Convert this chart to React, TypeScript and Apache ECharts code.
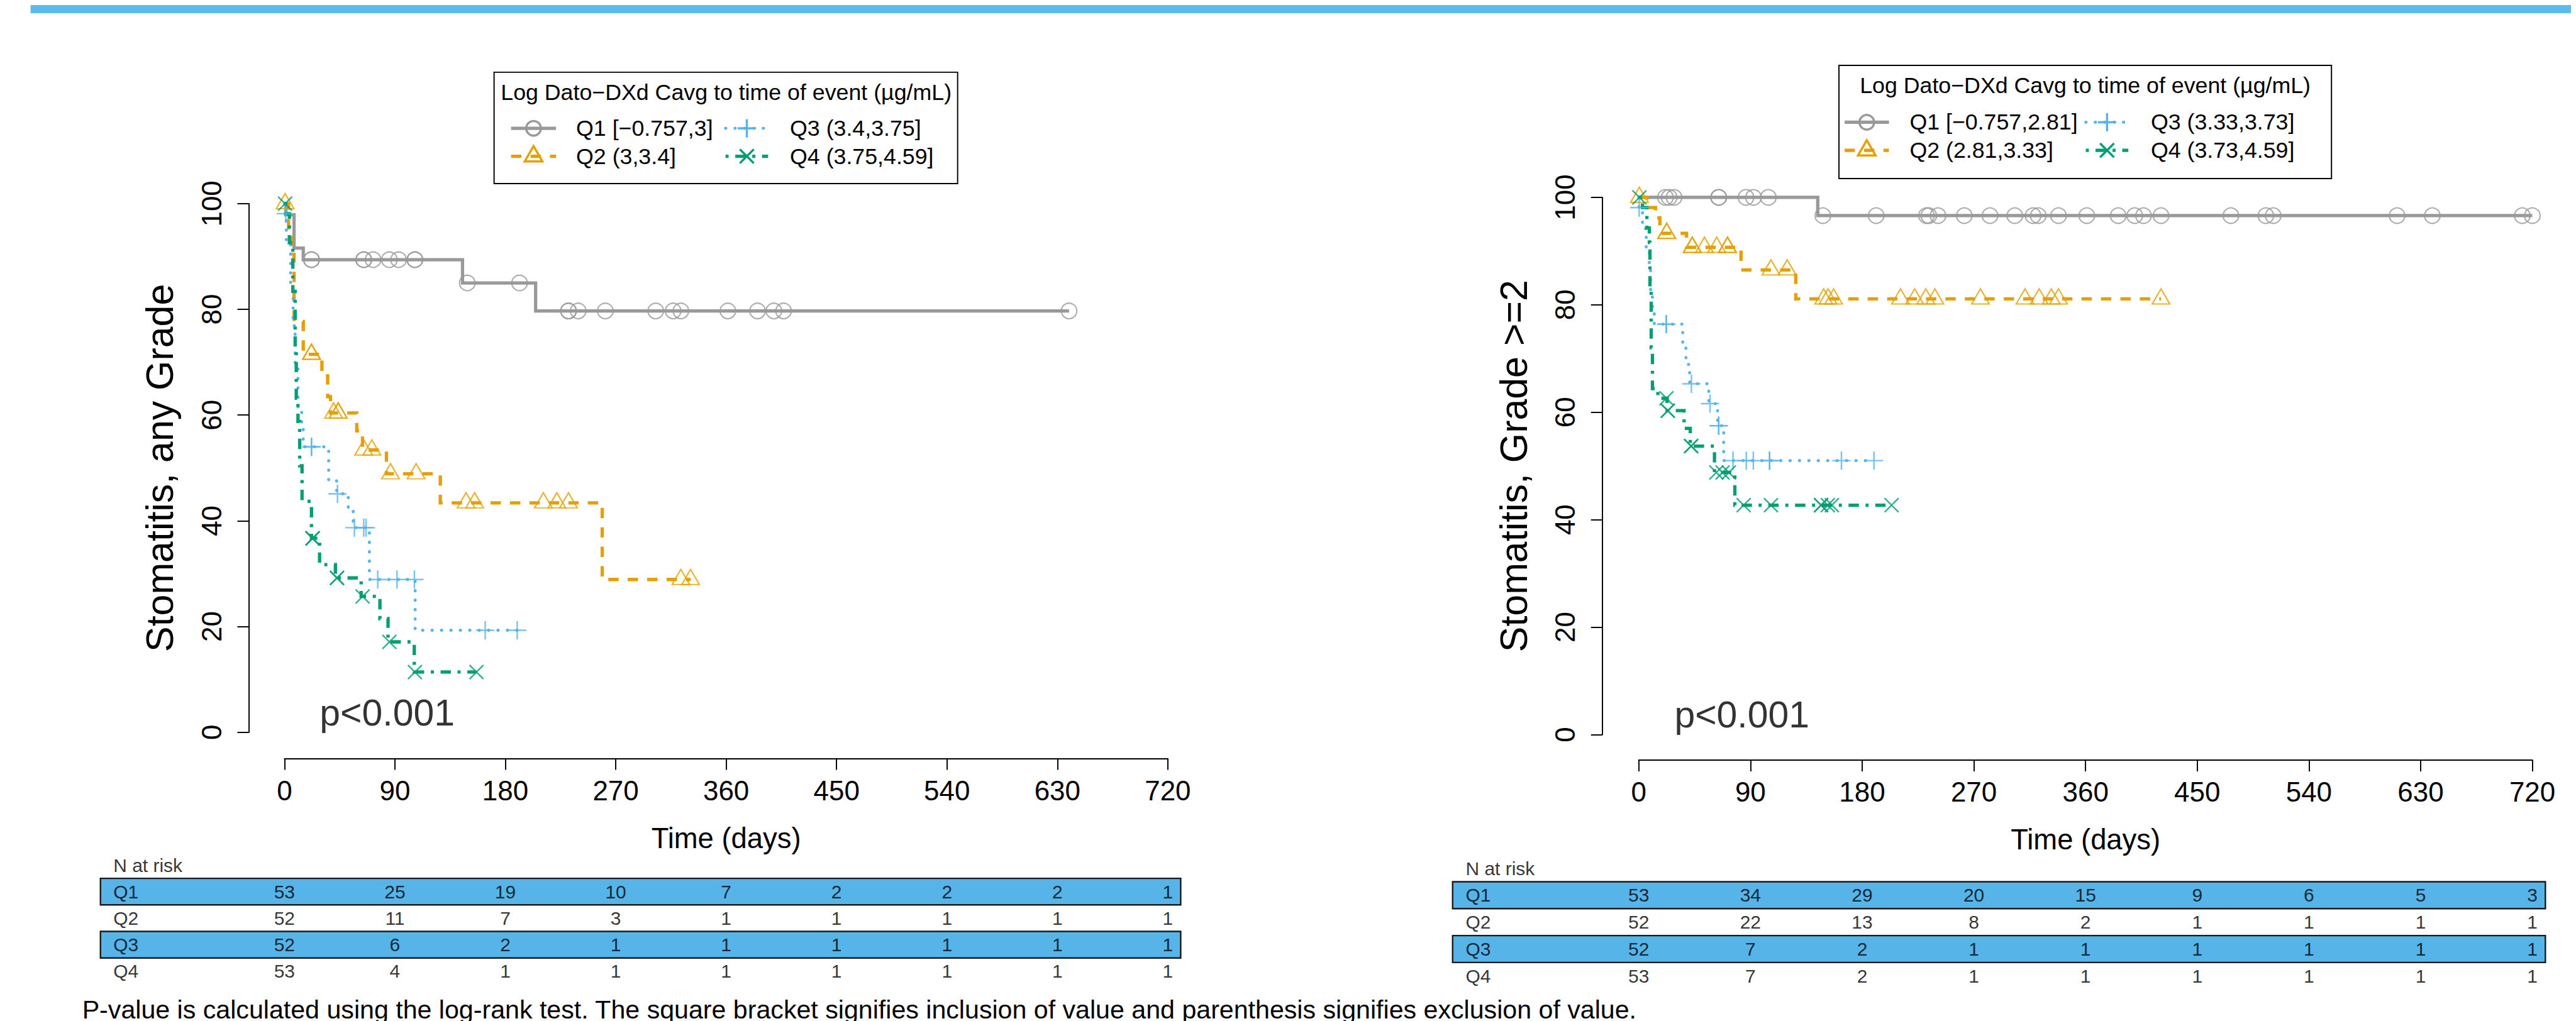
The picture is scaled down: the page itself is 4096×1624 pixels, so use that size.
import React, { useEffect, useRef } from 'react';
import * as echarts from 'echarts';

// ---------------- DATA ----------------
const xTicks = [0, 90, 180, 270, 360, 450, 540, 630, 720];
const yTicks = [0, 20, 40, 60, 80, 100];
const groupNames = ['Q1', 'Q2', 'Q3', 'Q4'];

// Left panel: Stomatitis, any Grade
const anyQ1Times = [0, 1.1, 7.8, 15.3, 145.1, 204.7, 639.5];
const anyQ1Surv = [100, 97.9, 91.6, 89.4, 85.0, 79.7, 79.7];
const anyQ1Cens = [22.0, 22.0, 64.6, 64.6, 72.2, 85.5, 93.0, 106.3, 106.3, 149.0, 191.6, 231.5, 231.5, 239.4, 261.5, 302.6, 316.8, 323.1, 361.4, 385.6, 398.9, 406.8, 639.5];

const anyQ2Times = [0, 3.3, 5.5, 7.8, 15.3, 30.5, 35.2, 37.5, 58.9, 63.6, 83.1, 127.0, 259.0, 331.0];
const anyQ2Surv = [100, 94.2, 90.4, 77.7, 71.5, 67.4, 63.5, 60.4, 57.0, 53.4, 48.9, 43.4, 28.9, 28.9];
const anyQ2Cens = [0.5, 22.0, 22.0, 40.0, 43.8, 43.8, 64.6, 71.2, 86.4, 107.3, 148.0, 155.0, 211.0, 222.0, 231.5, 323.1, 331.0];

const anyQ3Times = [0, 0.8, 1.5, 5.0, 7.0, 8.7, 11.0, 14.0, 15.3, 36.0, 42.5, 52.0, 56.0, 69.2, 106.5, 189.7];
const anyQ3Surv = [100, 98.1, 92.3, 84.6, 76.9, 69.2, 61.5, 57.7, 54.0, 47.7, 45.1, 41.9, 38.7, 28.9, 19.3, 19.3];
const anyQ3Cens = [1.0, 22.0, 22.0, 43.2, 57.0, 64.6, 66.5, 76.0, 91.7, 105.9, 163.6, 189.7];

const anyQ4Times = [0, 1.0, 4.0, 6.8, 8.7, 9.6, 11.0, 12.4, 14.3, 22.0, 28.6, 41.5, 62.5, 77.8, 84.4, 105.8, 156.5];
const anyQ4Surv = [100, 98.1, 92.6, 83.4, 72.9, 63.2, 58.8, 50.4, 43.7, 36.7, 31.7, 29.2, 25.7, 21.5, 17.1, 11.4, 11.4];
const anyQ4Cens = [0.5, 22.9, 22.9, 22.9, 42.8, 42.8, 63.7, 85.5, 106.3, 156.5];

const anyRiskQ1 = [53, 25, 19, 10, 7, 2, 2, 2, 1];
const anyRiskQ2 = [52, 11, 7, 3, 1, 1, 1, 1, 1];
const anyRiskQ3 = [52, 6, 2, 1, 1, 1, 1, 1, 1];
const anyRiskQ4 = [53, 4, 1, 1, 1, 1, 1, 1, 1];
const anyLegendLabels = ['Q1 [\u22120.757,3]', 'Q2 (3,3.4]', 'Q3 (3.4,3.75]', 'Q4 (3.75,4.59]'];

// Right panel: Stomatitis, Grade >=2
const g2Q1Times = [0, 144.2, 720.0];
const g2Q1Surv = [100, 96.6, 96.6];
const g2Q1Cens = [21.5, 24.5, 28.4, 64.4, 64.4, 86.4, 92.4, 104.4, 148.3, 191.3, 231.8, 233.7, 241.1, 262.3, 283.0, 303.0, 317.7, 321.9, 338.2, 361.0, 386.3, 399.6, 406.7, 420.8, 477.1, 505.3, 511.2, 611.0, 639.4, 711.9, 720.0];

const g2Q2Times = [0, 6.5, 13.5, 17.0, 38.5, 82.4, 126.5, 420.8];
const g2Q2Surv = [100, 98.1, 96.2, 93.3, 90.7, 86.5, 81.1, 81.1];
const g2Q2Cens = [0.5, 22.5, 22.5, 43.1, 43.1, 52.9, 62.8, 71.5, 71.5, 106.5, 119.6, 149.0, 152.5, 157.0, 210.9, 222.3, 231.3, 238.6, 275.3, 311.2, 322.6, 332.4, 338.2, 420.8];

const g2Q3Times = [0, 0.2, 3.0, 6.0, 8.5, 9.5, 11.0, 12.5, 35.4, 38.0, 41.0, 56.4, 63.5, 68.4, 189.5];
const g2Q3Surv = [100, 98.1, 94.2, 90.4, 86.5, 82.7, 78.8, 76.4, 72.5, 68.9, 65.3, 61.6, 57.5, 51.0, 51.0];
const g2Q3Cens = [0.3, 22.1, 22.1, 42.4, 57.4, 64.4, 64.4, 75.9, 86.6, 92.3, 105.4, 105.4, 163.3, 189.5];

const g2Q4Times = [0, 3.0, 6.5, 8.5, 9.0, 10.0, 11.0, 15.4, 22.8, 36.5, 41.5, 61.0, 77.4, 203.7];
const g2Q4Surv = [100, 98.1, 94.3, 91.6, 83.0, 72.0, 64.4, 62.6, 60.3, 57.0, 53.7, 48.8, 42.7, 42.7];
const g2Q4Cens = [0.5, 22.3, 23.4, 23.4, 42.2, 42.2, 62.5, 67.5, 72.6, 84.5, 106.5, 146.9, 146.9, 152.3, 155.6, 203.7];

const g2RiskQ1 = [53, 34, 29, 20, 15, 9, 6, 5, 3];
const g2RiskQ2 = [52, 22, 13, 8, 2, 1, 1, 1, 1];
const g2RiskQ3 = [52, 7, 2, 1, 1, 1, 1, 1, 1];
const g2RiskQ4 = [53, 7, 2, 1, 1, 1, 1, 1, 1];
const g2LegendLabels = ['Q1 [\u22120.757,2.81]', 'Q2 (2.81,3.33]', 'Q3 (3.33,3.73]', 'Q4 (3.73,4.59]'];

const legendTitle = 'Log Dato\u2212DXd Cavg to time of event (\u00b5g/mL)';
const footnote = 'P-value is calculated using the log-rank test. The square bracket signifies inclusion of value and parenthesis signifies exclusion of value.';

// ---------------- STYLE / LAYOUT ----------------
const S = 0.966;
const W = 4096;
const H = 1624;
const P = (v: number) => Math.round(v * S * 100) / 100;
const FONT = '"Liberation Sans", Arial, Helvetica, sans-serif';
const COLORS = ['#999999', '#E69F00', '#56B4E9', '#009E73'];
const BAND = '#56B4E9';

const lineStyles = [
  { width: 5.4, type: 'solid' as any, cap: 'butt' },
  { width: 5.5, type: [17, 15], cap: 'butt' },
  { width: 5.0, type: [0.5, 15], cap: 'round' },
  { width: 5.5, type: [5, 11, 17, 11], cap: 'butt' },
];

function survAt(times: number[], surv: number[], t: number) {
  let v = surv[0];
  for (let i = 0; i < times.length; i++) if (times[i] <= t) v = surv[i];
  return v;
}

const panels = [
  {
    x0: 460, k: 2.0194, y0: 1197.5, ky: 8.705, yAxisX: 401, xAxisY: 1240.7,
    tableTop: 1438, rowH: 43.7,
    yName: 'Stomatitis, any Grade',
    times: [anyQ1Times, anyQ2Times, anyQ3Times, anyQ4Times],
    surv: [anyQ1Surv, anyQ2Surv, anyQ3Surv, anyQ4Surv],
    cens: [anyQ1Cens, anyQ2Cens, anyQ3Cens, anyQ4Cens],
    risk: [anyRiskQ1, anyRiskQ2, anyRiskQ3, anyRiskQ4],
    legend: {
      labels: anyLegendLabels, box: [805, 110.6, 763, 183.4], titleX: 1187, titleY: 144.4,
      rows: [203, 249], cols: [[833, 907, 870, 940], [1186, 1256, 1221, 1292]],
    },
  },
  {
    x0: 2689.2, k: 2.0428, y0: 1201.3, ky: 8.846, yAxisX: 2629, xAxisY: 1243.4,
    tableTop: 1443.6, rowH: 44.3,
    yName: 'Stomatitis, Grade >=2',
    times: [g2Q1Times, g2Q2Times, g2Q3Times, g2Q4Times],
    surv: [g2Q1Surv, g2Q2Surv, g2Q3Surv, g2Q4Surv],
    cens: [g2Q1Cens, g2Q2Cens, g2Q3Cens, g2Q4Cens],
    risk: [g2RiskQ1, g2RiskQ2, g2RiskQ3, g2RiskQ4],
    legend: {
      labels: g2LegendLabels, box: [3018.7, 99.3, 810.7, 186.4], titleX: 3424, titleY: 133,
      rows: [193, 239.3], cols: [[3028, 3101, 3064.5, 3135], [3425, 3495, 3460, 3532]],
    },
  },
];

const TRI_W = 29;
const TRI_H = 25;
const markerDefs = [
  { symbol: 'circle', size: 25.5, offset: 0, bw: 2.2 },
  { symbol: 'triangle', size: [TRI_W, TRI_H], offset: -(TRI_H / 2 - TRI_H / 3), bw: 2.2 },
  { symbol: 'path://M1,0L1,2M0,1L2,1', size: 30, offset: 0, bw: 2.5 },
  { symbol: 'path://M0,0L2,2M2,0L0,2', size: 23, offset: 0, bw: 2.5 },
];

function legendMarker(q: number, cx: number, cy: number) {
  const c = COLORS[q];
  const lw = P(3.6);
  if (q === 0) {
    return [{ type: 'circle', shape: { cx: P(cx), cy: P(cy), r: P(12) }, style: { fill: 'none', stroke: c, lineWidth: lw }, z: 101 }];
  }
  if (q === 1) {
    return [{
      type: 'polygon',
      shape: { points: [[P(cx), P(cy - 16.7)], [P(cx + 14.5), P(cy + 8.4)], [P(cx - 14.5), P(cy + 8.4)]] },
      style: { fill: 'none', stroke: c, lineWidth: lw }, z: 101,
    }];
  }
  if (q === 2) {
    return [
      { type: 'line', shape: { x1: P(cx - 15), y1: P(cy), x2: P(cx + 15), y2: P(cy) }, style: { stroke: c, lineWidth: lw }, z: 101 },
      { type: 'line', shape: { x1: P(cx), y1: P(cy - 15), x2: P(cx), y2: P(cy + 15) }, style: { stroke: c, lineWidth: lw }, z: 101 },
    ];
  }
  return [
    { type: 'line', shape: { x1: P(cx - 11.5), y1: P(cy - 11.5), x2: P(cx + 11.5), y2: P(cy + 11.5) }, style: { stroke: c, lineWidth: lw }, z: 101 },
    { type: 'line', shape: { x1: P(cx + 11.5), y1: P(cy - 11.5), x2: P(cx - 11.5), y2: P(cy + 11.5) }, style: { stroke: c, lineWidth: lw }, z: 101 },
  ];
}

function buildLegend(lg: any) {
  const els: any[] = [];
  const [bx, by, bw, bh] = lg.box;
  els.push({ type: 'rect', shape: { x: P(bx), y: P(by), width: P(bw), height: P(bh) }, style: { fill: '#fff', stroke: '#000', lineWidth: P(2) }, z: 100 });
  els.push({
    type: 'text', x: P(lg.titleX), y: P(lg.titleY), z: 101,
    style: { text: legendTitle, fill: '#000', fontSize: P(37), fontFamily: FONT, align: 'center', verticalAlign: 'middle' },
  });
  for (let q = 0; q < 4; q++) {
    const col = lg.cols[q < 2 ? 0 : 1];
    const row = lg.rows[q % 2];
    const ls = lineStyles[q];
    els.push({
      type: 'line', z: 101,
      shape: { x1: P(col[0]), y1: P(row), x2: P(col[1]), y2: P(row) },
      style: {
        stroke: COLORS[q], lineWidth: P(ls.width), lineCap: ls.cap,
        lineDash: Array.isArray(ls.type) ? ls.type.map((d: number) => P(d)) : null,
      },
    });
    els.push(...legendMarker(q, col[2], row));
    els.push({
      type: 'text', x: P(col[3]), y: P(row), z: 101,
      style: { text: lg.labels[q], fill: '#000', fontSize: P(37), fontFamily: FONT, align: 'left', verticalAlign: 'middle' },
    });
  }
  return els;
}

function buildOption() {
  const grid: any[] = [];
  const xAxis: any[] = [];
  const yAxis: any[] = [];
  const series: any[] = [];
  const graphic: any[] = [];

  graphic.push({ type: 'rect', shape: { x: P(42), y: 0, width: P(4237 - 42), height: P(13.5) }, style: { fill: '#5BBBEF' }, z: 100 });

  panels.forEach((pn, pi) => {
    const gi = pi * 2;
    // plot grid
    grid.push({
      left: P(pn.x0), top: P(pn.y0 - 100 * pn.ky), width: P(720 * pn.k), height: P(100 * pn.ky),
      containLabel: false, outerBoundsMode: 'none', show: false,
    });
    // table grid
    grid.push({
      left: P(pn.x0 - 150 * pn.k), top: P(pn.tableTop - pn.rowH), width: P(881 * pn.k), height: P(5 * pn.rowH),
      containLabel: false, outerBoundsMode: 'none', show: false,
    });
    const axisLineStyle = { color: '#000', width: P(2) };
    xAxis.push({
      type: 'value', gridIndex: gi, min: xTicks[0], max: xTicks[xTicks.length - 1], interval: 90,
      offset: P(pn.xAxisY - pn.y0),
      axisLine: { show: true, onZero: false, lineStyle: axisLineStyle },
      axisTick: { show: true, length: P(18.5), lineStyle: axisLineStyle },
      axisLabel: { show: true, fontSize: P(45.5), color: '#000', fontFamily: FONT, margin: P(29.7) },
      splitLine: { show: false },
      name: 'Time (days)', nameLocation: 'middle', nameGap: P(107.7), nameMoveOverlap: false,
      nameTextStyle: { fontSize: P(47), color: '#000', fontFamily: FONT },
    });
    yAxis.push({
      type: 'value', gridIndex: gi, min: yTicks[0], max: yTicks[yTicks.length - 1], interval: 20,
      offset: P(pn.x0 - pn.yAxisX),
      axisLine: { show: true, onZero: false, lineStyle: axisLineStyle },
      axisTick: { show: true, length: P(18.5), lineStyle: axisLineStyle },
      axisLabel: { show: true, fontSize: P(45.5), color: '#000', fontFamily: FONT, margin: P(38.5), rotate: 90 },
      splitLine: { show: false },
      name: pn.yName, nameLocation: 'middle', nameGap: P(114.5), nameMoveOverlap: false,
      nameTextStyle: { fontSize: P(63), color: '#000', fontFamily: FONT },
    });
    xAxis.push({ type: 'value', gridIndex: gi + 1, min: -150, max: 731, show: false, splitLine: { show: false } });
    yAxis.push({ type: 'value', gridIndex: gi + 1, min: 0, max: 5, show: false, splitLine: { show: false } });

    for (let q = 0; q < 4; q++) {
      const ls = lineStyles[q];
      series.push({
        type: 'line', name: groupNames[q], xAxisIndex: gi, yAxisIndex: gi,
        data: pn.times[q].map((t: number, j: number) => [t, pn.surv[q][j]]),
        step: 'end', showSymbol: false, symbol: 'none', clip: false, silent: true, z: 2,
        lineStyle: {
          color: COLORS[q], width: P(ls.width), cap: ls.cap, join: 'miter',
          type: Array.isArray(ls.type) ? ls.type.map((d: number) => P(d)) : 'solid',
        },
      });
    }
    for (let q = 0; q < 4; q++) {
      const md = markerDefs[q];
      series.push({
        type: 'scatter', xAxisIndex: gi, yAxisIndex: gi, clip: false, silent: true, z: 3,
        data: pn.cens[q].map((t: number) => [t, survAt(pn.times[q], pn.surv[q], t)]),
        symbol: md.symbol,
        symbolSize: Array.isArray(md.size) ? md.size.map((d: number) => P(d)) : P(md.size as number),
        symbolOffset: [0, P(md.offset)],
        itemStyle: { color: 'transparent', borderColor: COLORS[q], borderWidth: P(md.bw) },
      });
    }
    // p-value
    series.push({
      type: 'scatter', xAxisIndex: gi, yAxisIndex: gi, clip: false, silent: true, z: 4,
      data: [[28.7, 3.7]], symbol: 'circle', symbolSize: 1, itemStyle: { color: 'transparent' },
      label: {
        show: true, formatter: 'p<0.001', position: 'inside', align: 'left', verticalAlign: 'middle',
        fontSize: P(61), color: '#000', fontFamily: FONT,
      },
    });
    // table bands
    series.push({
      type: 'scatter', xAxisIndex: gi + 1, yAxisIndex: gi + 1, data: [], silent: true, z: 1,
      markArea: {
        silent: true, label: { show: false },
        itemStyle: { color: BAND, borderColor: '#1a1a1a', borderWidth: P(2.5) },
        data: [
          [{ xAxis: -150, yAxis: 3 }, { xAxis: 730.5, yAxis: 4 }],
          [{ xAxis: -150, yAxis: 1 }, { xAxis: 730.5, yAxis: 2 }],
        ],
      },
    });
    // table numbers
    const numData: any[] = [];
    pn.risk.forEach((row: number[], r: number) => {
      row.forEach((n: number, j: number) => numData.push([xTicks[j], 3.5 - r, n]));
    });
    series.push({
      type: 'scatter', xAxisIndex: gi + 1, yAxisIndex: gi + 1, clip: false, silent: true, z: 5,
      data: numData, symbol: 'circle', symbolSize: 1, itemStyle: { color: 'transparent' },
      label: {
        show: true, position: 'inside', formatter: (p: any) => String(p.value[2]),
        fontSize: P(31), color: '#000', fontFamily: FONT, align: 'center', verticalAlign: 'middle',
      },
    });
    // row labels
    const rowLab: any[] = groupNames.map((g, r) => [-139.5, 3.5 - r, g]);
    rowLab.push([-139.5, 4.49, 'N at risk']);
    series.push({
      type: 'scatter', xAxisIndex: gi + 1, yAxisIndex: gi + 1, clip: false, silent: true, z: 5,
      data: rowLab, symbol: 'circle', symbolSize: 1, itemStyle: { color: 'transparent' },
      label: {
        show: true, position: 'inside', formatter: (p: any) => String(p.value[2]),
        fontSize: P(31), color: '#000', fontFamily: FONT, align: 'left', verticalAlign: 'middle',
      },
    });

    graphic.push(...buildLegend(pn.legend));
  });

  graphic.push({
    type: 'text', x: P(127), y: P(1654), z: 100,
    style: { text: footnote, fill: '#000', fontSize: P(42.6), fontFamily: FONT, align: 'left', verticalAlign: 'middle' },
  });

  return {
    animation: false,
    backgroundColor: '#ffffff',
    textStyle: { fontFamily: FONT },
    tooltip: { show: false },
    grid, xAxis, yAxis, series, graphic,
  };
}

export default function App() {
  const ref = useRef<HTMLDivElement>(null);
  useEffect(() => {
    if (!ref.current) return;
    const chart = echarts.init(ref.current, null, { renderer: 'svg', width: W, height: H });
    chart.setOption(buildOption() as any);
    return () => chart.dispose();
  }, []);
  return (
    <div
      ref={ref}
      style={{ position: 'fixed', left: 0, top: 0, width: W, height: H, background: '#fff', overflow: 'hidden' }}
    />
  );
}
